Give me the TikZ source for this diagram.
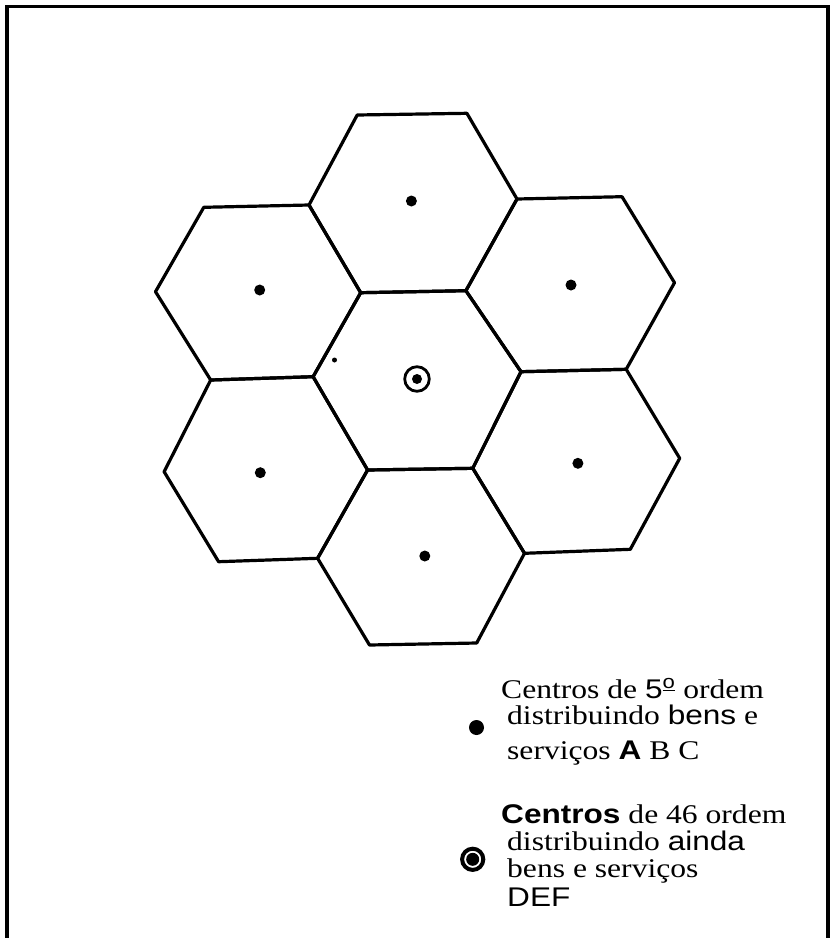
\documentclass[tikz,border=0pt]{standalone}
\usepackage{fontspec}
\newfontfamily\lserif[FakeStretch=1.17]{Liberation Serif}
\newfontfamily\lsans[FakeStretch=1.17]{Liberation Sans}
\begin{document}
\begin{tikzpicture}[x=1pt,y=-1pt,
  hexline/.style={line width=3.2pt, line join=round, line cap=round},
  frameline/.style={line width=3.8pt, line join=miter},
  centre/.style={circle, fill=black, inner sep=0pt, minimum size=11pt},
  legtext/.style={anchor=base west, inner sep=0pt, font=\fontsize{27}{27}\selectfont\lserif}
]
\useasboundingbox (0,0) rectangle (830,938);
\fill[white] (0,0) rectangle (830,938);
% frame (open at the bottom)
\draw[frameline] (7,938) -- (7,6.5) -- (828.3,6.5) -- (828.3,938);

% hexagon vertices
\coordinate (A1) at (357.2,115);
\coordinate (A2) at (466.9,113.3);
\coordinate (A3) at (517,199);
\coordinate (A4) at (465.9,290.7);
\coordinate (A5) at (360.7,292.7);
\coordinate (A6) at (309,205);
\coordinate (B1) at (203.8,207.3);
\coordinate (B2) at (155.5,291.7);
\coordinate (B3) at (210.7,380);
\coordinate (B4) at (313.1,376.7);
\coordinate (C1) at (622,196.7);
\coordinate (C2) at (674.5,282.7);
\coordinate (C3) at (626.2,369.3);
\coordinate (C4) at (521,371.7);
\coordinate (D1) at (472.8,468.3);
\coordinate (D2) at (367.6,470);
\coordinate (E1) at (164.1,471.7);
\coordinate (E2) at (218.6,561.7);
\coordinate (E3) at (317.6,558.3);
\coordinate (F1) at (679.7,458.3);
\coordinate (F2) at (630.3,549.3);
\coordinate (F3) at (524.5,553.3);
\coordinate (G1) at (476.7,643);
\coordinate (G2) at (369.5,645);

% hexagons
\draw[hexline] (A1) -- (A2) -- (A3) -- (A4) -- (A5) -- (A6) -- cycle;
\draw[hexline] (B1) -- (A6) -- (A5) -- (B4) -- (B3) -- (B2) -- cycle;
\draw[hexline] (A5) -- (A4) -- (C4) -- (D1) -- (D2) -- (B4) -- cycle;
\draw[hexline] (A3) -- (C1) -- (C2) -- (C3) -- (C4) -- (A4) -- cycle;
\draw[hexline] (B3) -- (B4) -- (D2) -- (E3) -- (E2) -- (E1) -- cycle;
\draw[hexline] (C4) -- (C3) -- (F1) -- (F2) -- (F3) -- (D1) -- cycle;
\draw[hexline] (D2) -- (D1) -- (F3) -- (G1) -- (G2) -- (E3) -- cycle;

% centres of 5th order
\node[centre] (c1) at (411.4,201) {};
\node[centre] (c2) at (259.7,290) {};
\node[centre] (c3) at (571,285) {};
\node[centre] (c4) at (260.3,472.7) {};
\node[centre] (c5) at (577.9,463.3) {};
\node[centre] (c6) at (424.8,556) {};
% central higher-order centre
\node[centre, minimum size=10pt] (c0) at (417,379) {};
\draw[line width=2.8pt] (c0.center) circle[radius=12.3];
\node[centre, minimum size=5pt] (speck) at (334.5,360) {};

% legend
\node[centre, minimum size=15pt] (k1) at (476.5,727.5) {};
\node[centre, minimum size=13pt] (k2) at (472.7,859.3) {};
\draw[line width=4pt] (k2.center) circle[radius=10.6];

\node[legtext] (t1) at (501,698) {Centros de {\lsans 5\textsuperscript{\underline{o}}} ordem};
\node[legtext] (t2) at (507,724) {distribuindo {\lsans bens} e};
\node[legtext] (t3) at (507,759) {serviços {\lsans\bfseries A} B C};
\node[legtext] (t4) at (501,823) {{\lsans\bfseries Centros} de 46 ordem};
\node[legtext] (t5) at (507,850) {distribuindo {\lsans ainda}};
\node[legtext] (t6) at (507,877) {bens e serviços};
\node[legtext] (t7) at (507,906) {{\lsans DEF}};
\end{tikzpicture}
\end{document}
